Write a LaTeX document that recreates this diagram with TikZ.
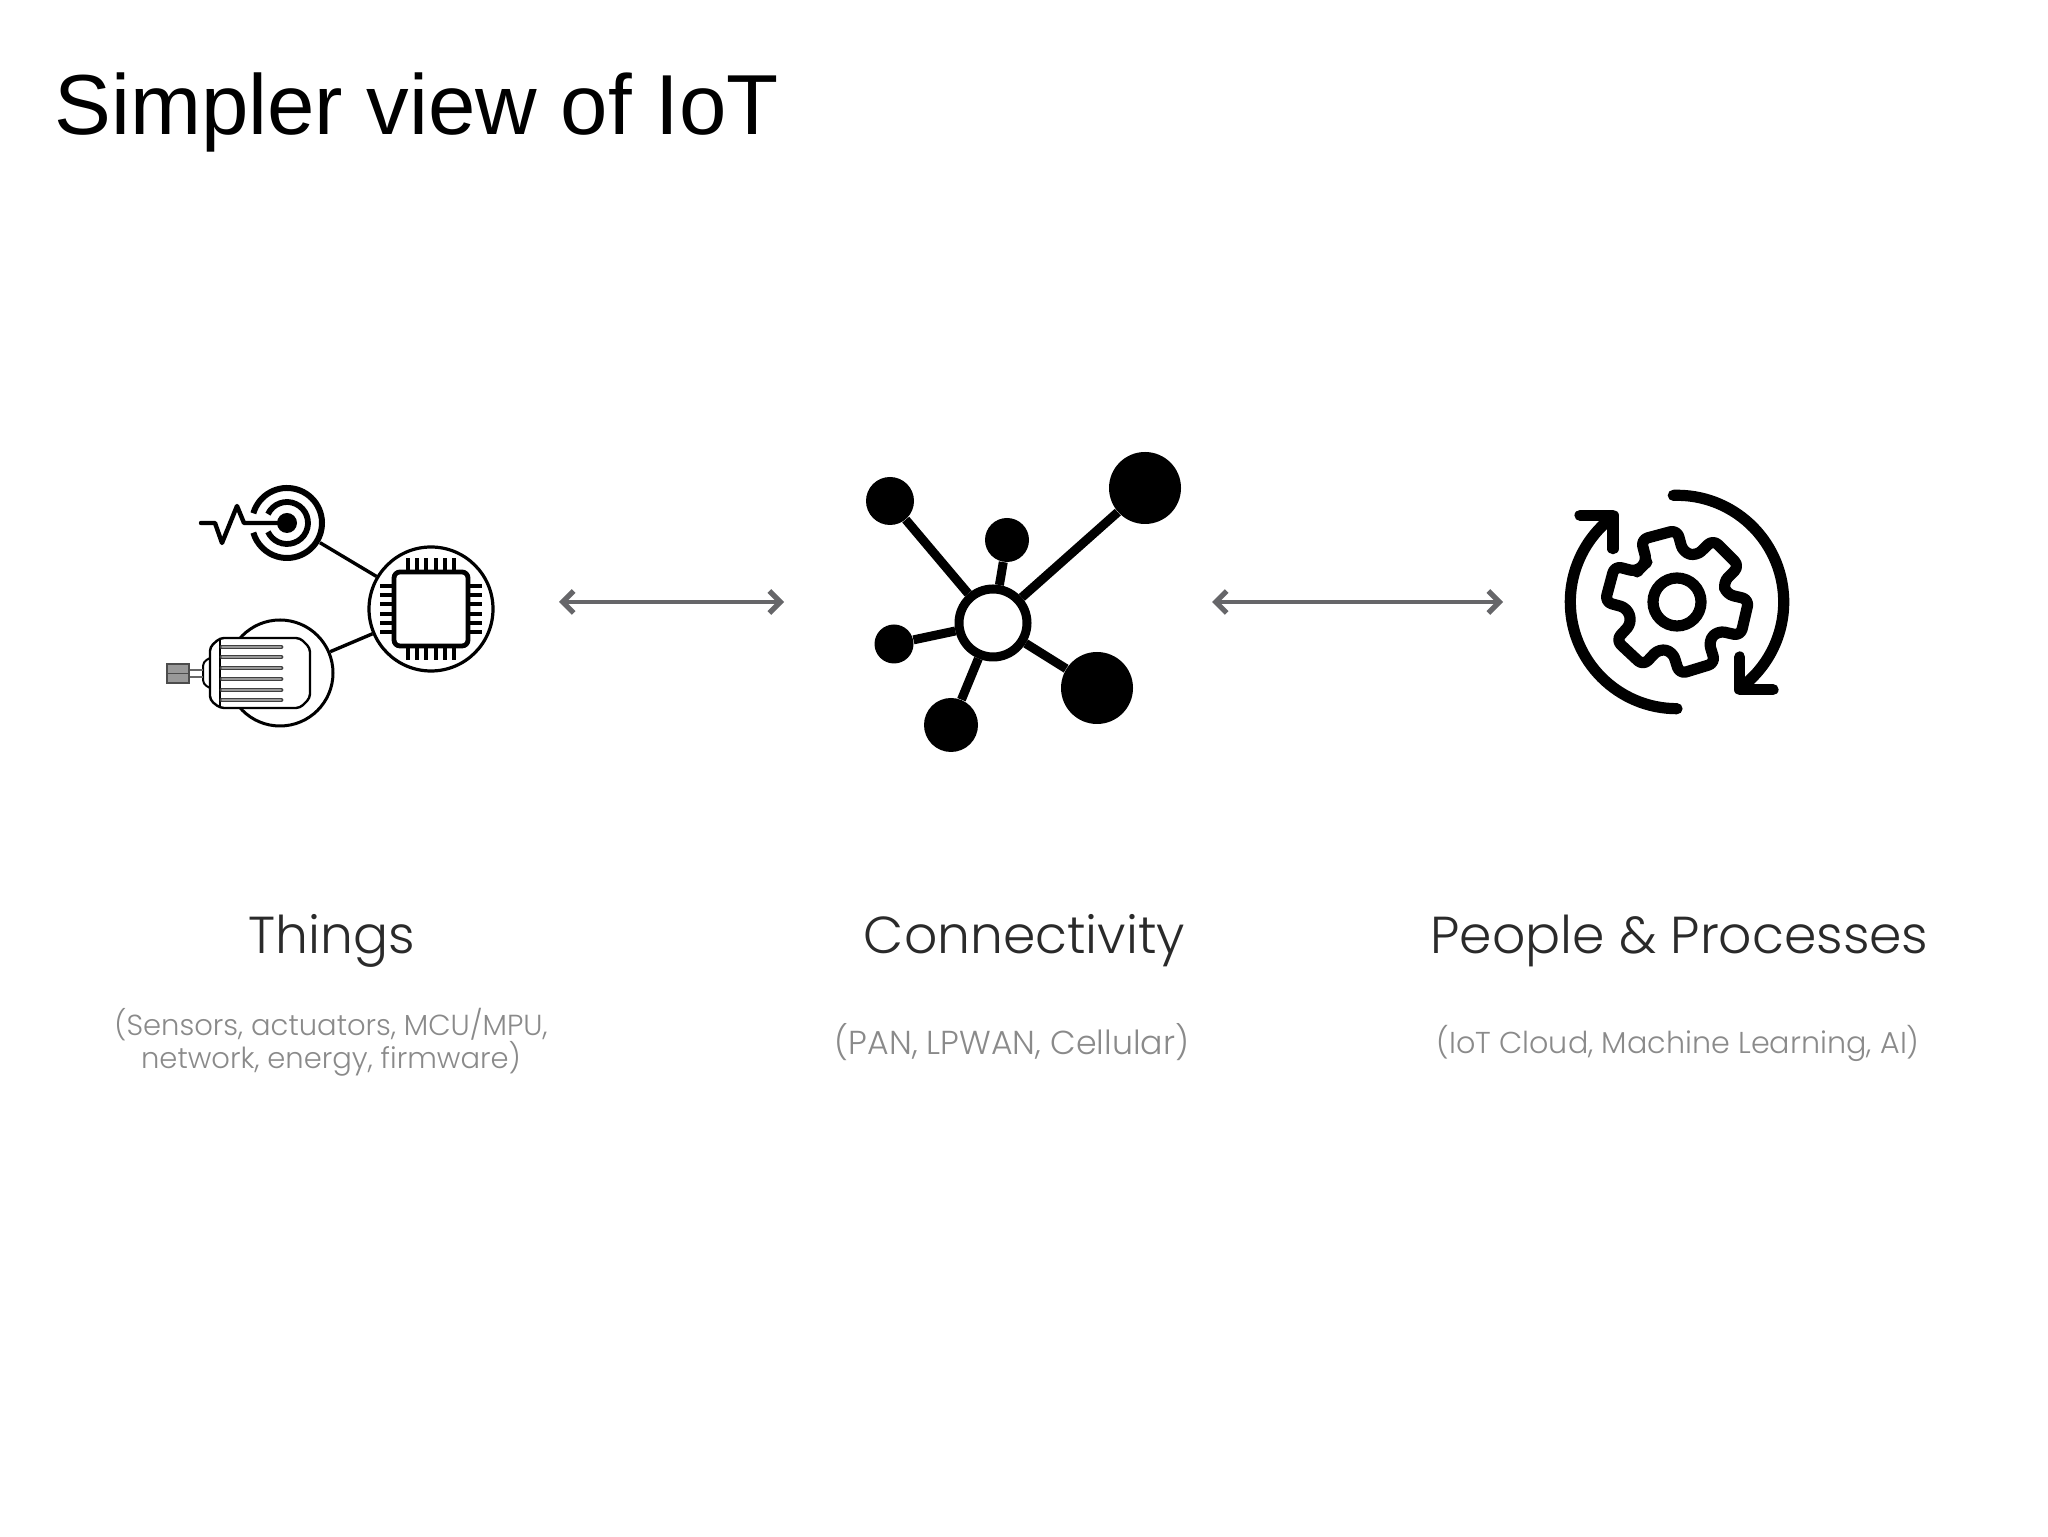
\documentclass[tikz,border=0pt]{standalone}
\usepackage{fontspec}
\usetikzlibrary{arrows.meta}
\setmainfont{Liberation Sans}
\newfontfamily\labelfont[UprightFont=* Light]{Poppins}
\definecolor{arrowgray}{HTML}{666669}
\definecolor{subgray}{HTML}{8A8A8A}
\definecolor{headgray}{HTML}{2A2A2A}
\tikzstyle{title text}=[anchor=base west, inner sep=0pt, font=\fontsize{42.6}{50}\selectfont]
\tikzstyle{head text}=[anchor=base, inner sep=0pt, text=headgray, font=\labelfont\fontsize{26}{30}\selectfont]
\tikzstyle{sub text}=[anchor=base, inner sep=0pt, text=subgray, align=center]
\tikzstyle{big arrow}=[line width=1.9pt, arrowgray, {Straight Barb[length=5.5pt,width=11pt,line width=2.6pt]}-{Straight Barb[length=5.5pt,width=11pt,line width=2.6pt]}]

\begin{document}
\begin{tikzpicture}[x=0.5pt, y=0.5pt,
    ring/.style = {draw, circle, inner sep=0pt, fill=white},
    dot/.style = {circle, fill=black, inner sep=0pt},
    spoke/.style = {line width=4.5pt},
    link/.style = {line width=1.7pt},
    pin/.style = {line width=2pt},
    gearline/.style = {line width=5.6pt, line cap=round, line join=round}]
    \useasboundingbox (0,0) rectangle (2048,1536);

    \node[title text] (title) at (54,1401) {Simpler view of IoT};

    % things
    \node[ring, draw=none, fill=none, minimum size=38pt] (sensor) at (287,1013) {};
    \node[ring, line width=1.6pt, minimum size=62pt] (mcu) at (431,927) {};
    \node[ring, line width=1.5pt, minimum size=53pt] (motor) at (280,863) {};
    \node[draw, fill=white, line width=2.4pt, rounded corners=3pt, minimum size=37pt, inner sep=0pt] (chip) at (431,927) {};
    \draw[link] (sensor) -- (mcu);
    \draw[link] (motor) -- (mcu);

    \foreach \i in {-2.5,-1.5,...,2.5} {
        \draw[pin] ([xshift=\i*4.65pt]chip.north) -- ++(0,12);
        \draw[pin] ([xshift=\i*4.65pt]chip.south) -- ++(0,-12);
        \draw[pin] ([yshift=\i*4.65pt]chip.west) -- ++(-12,0);
        \draw[pin] ([yshift=\i*4.65pt]chip.east) -- ++(12,0);
    }

    \draw[line width=3pt] (sensor.center) ++(164:35) arc[start angle=164, end angle=-164, radius=35];
    \draw[line width=2.9pt] (sensor.center) ++(155:21) arc[start angle=155, end angle=-155, radius=21];
    \fill (sensor.center) circle[radius=10];
    \draw[line width=2.2pt, line join=round, line cap=round] (sensor.center) -- (244,1013) -- (237,1030) -- (222,993) -- (215,1013) -- (201,1013);

    \draw[fill=white, line width=1.2pt, rounded corners=2pt] (220,898) -- (300,898) -- (310,888) -- (310,838) -- (300,828) -- (220,828) -- (210,836) -- (210,889) -- cycle;
    \draw[line width=1.2pt] (220,898) -- (220,828);
    \foreach \y in {889,879,868,857,846,836} {
        \draw[line width=2.4pt, black!75, line cap=round] (222,\y) -- (281,\y);
        \draw[line width=0.8pt, black!40, line cap=round] (222,\y) -- (281,\y);
    }
    \draw[line width=1pt, rounded corners=2pt] (210,878) -- (203,874) -- (203,852) -- (210,848);
    \draw[line width=0.6pt, black!60] (189,866) -- (203,866) (189,859) -- (203,859);
    \draw[line width=0.8pt, fill=black!40, draw=black!70] (167,853) rectangle (189,872);
    \draw[line width=0.8pt, black!70] (167,862.5) -- (189,862.5);

    % connectivity
    \node[ring, line width=4.5pt, minimum size=34pt] (hub) at (993,913) {};
    \node[dot, minimum size=24pt] (n1) at (890,1035) {};
    \node[dot, minimum size=22pt] (n2) at (1007,996) {};
    \node[dot, minimum size=36pt] (n3) at (1145,1048) {};
    \node[dot, minimum size=19.5pt] (n4) at (894,892) {};
    \node[dot, minimum size=36pt] (n5) at (1097,848) {};
    \node[dot, minimum size=27pt] (n6) at (951,811) {};
    \foreach \n in {1,...,6} {
        \draw[spoke] (hub) -- (n\n);
    }

    % processes
    \begin{scope}[shift={(1677,934)}]
        \node[ring, line width=5.6pt, minimum size=24pt] (axle) at (0,0) {};
        \draw[gearline, rounded corners=3.5pt] (135:50)
            \foreach \a in {105,45,-13,-73,-133,-195} {
                -- (\a+22:50) -- (\a+15:72) -- (\a-15:72) -- (\a-22:50)
            } -- cycle;
        \draw[gearline] (92:106.7) arc[start angle=92, end angle=-52, radius=106.7];
        \draw[gearline] (270:106.7) arc[start angle=270, end angle=127, radius=106.7];
        \draw[gearline] (-97,86.7) -- (-64,86.7) -- (-64,53.3);
        \draw[gearline] (62.7,-55) -- (62.7,-87.7) -- (96,-87.7);
    \end{scope}

    % arrows
    \coordinate (things east) at (559,934);
    \coordinate (net west) at (784,934);
    \coordinate (net east) at (1212,934);
    \coordinate (proc west) at (1503,934);
    \draw[big arrow] (things east) -- (net west);
    \draw[big arrow] (net east) -- (proc west);

    % labels
    \node[head text] (things) at (332,582) {Things};
    \node[head text] (conn) at (1024.5,582) {Connectivity};
    \node[head text] (people) at (1679.5,582) {People \& Processes};
    \node[sub text, anchor=north, font=\labelfont\fontsize{14.5}{16.4}\selectfont] (thingssub) at (331,528) {(Sensors, actuators, MCU/MPU,\\network, energy, firmware)};
    \node[sub text, font=\labelfont\fontsize{16.6}{20}\selectfont] (connsub) at (1012,481) {(PAN, LPWAN, Cellular)};
    \node[sub text, font=\labelfont\fontsize{15.1}{20}\selectfont] (peoplesub) at (1678,482) {(IoT Cloud, Machine Learning, AI)};
\end{tikzpicture}
\end{document}
